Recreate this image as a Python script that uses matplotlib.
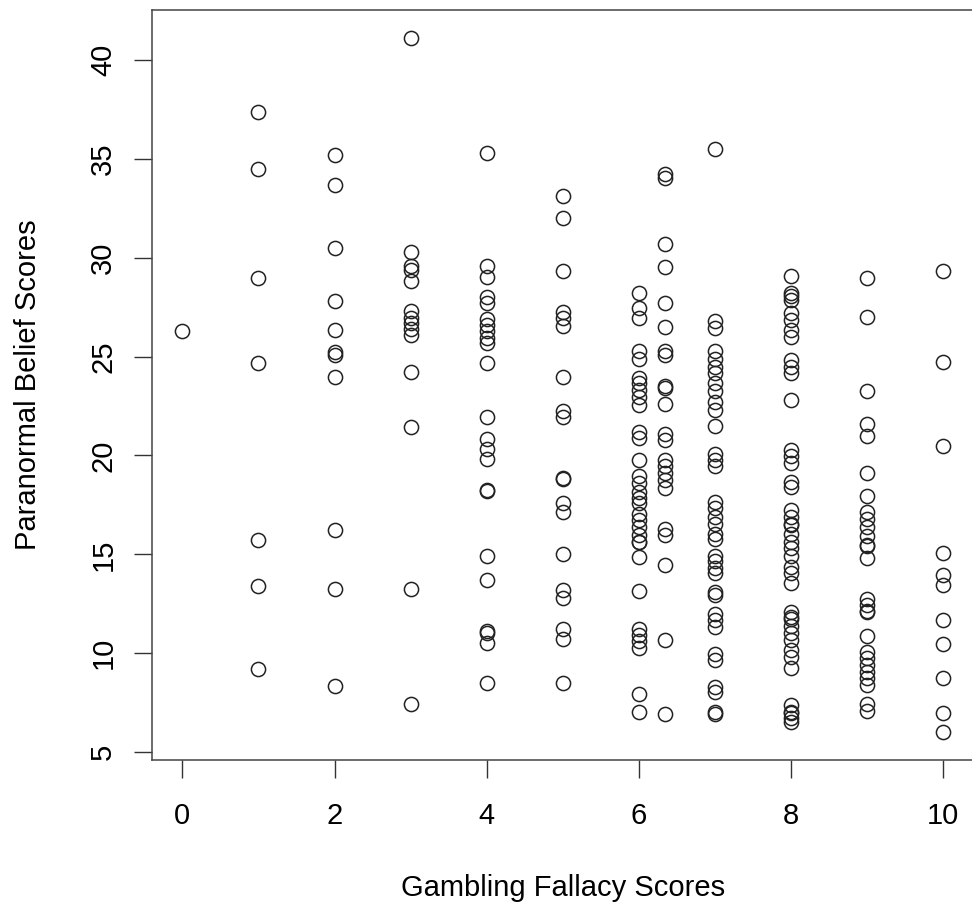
import numpy as np
import matplotlib
matplotlib.use("Agg")
import matplotlib.pyplot as plt

plt.rcParams['font.family'] = ['Liberation Sans', 'DejaVu Sans']

# gambling fallacy score levels (one column of points per level)
gf_levels = [0, 1, 2, 3, 4, 5, 6, 6.35, 7, 8, 9, 10]

# paranormal belief scores
pb_0 = [26.3]
pb_1 = [37.35, 34.5, 29.0, 24.7, 15.75, 13.4, 9.2]
pb_2 = [35.2, 33.7, 30.5, 27.8, 26.35, 25.25, 25.1, 23.95, 16.25, 13.25, 8.35]
pb_3 = [41.1, 30.3, 29.6, 29.4, 28.8, 27.3, 26.95, 26.7, 26.4, 26.1, 24.2,
        21.45, 13.25, 7.45]
pb_4 = [35.3, 29.6, 29.05, 28.0, 27.7, 26.9, 26.6, 26.3, 25.95, 25.7, 24.7,
        21.95, 20.85, 20.35, 19.8, 18.25, 18.2, 14.9, 13.7, 11.1, 11.0, 10.5, 8.5]
pb_5 = [33.1, 32.0, 29.35, 27.25, 26.95, 26.55, 23.95, 22.25, 21.95, 18.85,
        18.8, 17.6, 17.15, 15.0, 13.2, 12.8, 11.25, 10.7, 8.5]
pb_6 = [28.2, 27.45, 26.95, 25.3, 24.9, 23.9, 23.65, 23.3, 22.95, 22.55, 21.2,
        20.9, 19.75, 18.95, 18.6, 18.15, 17.85, 17.6, 17.05, 16.75, 16.4, 16.0,
        15.65, 15.6, 14.85, 13.15, 11.25, 10.9, 10.6, 10.25, 7.95, 7.05]
pb_6b = [34.25, 34.05, 30.7, 29.55, 27.7, 26.5, 25.3, 25.1, 23.5, 23.4, 22.6,
         21.1, 20.8, 19.75, 19.45, 19.1, 18.75, 18.35, 16.3, 16.0, 14.45, 10.65,
         6.95]
pb_7 = [35.5, 26.8, 26.45, 25.3, 24.9, 24.5, 24.15, 23.65, 23.25, 22.7, 22.3,
        21.5, 20.1, 19.75, 19.45, 17.65, 17.35, 16.9, 16.55, 16.05, 15.8, 14.9,
        14.65, 14.3, 14.05, 13.1, 12.95, 12.0, 11.7, 11.35, 9.95, 9.65, 8.3,
        8.05, 7.05, 6.95]
pb_8 = [29.1, 28.2, 28.05, 27.85, 27.2, 26.85, 26.35, 26.0, 24.85, 24.5, 24.15,
        22.8, 20.3, 19.95, 19.6, 18.65, 18.4, 17.25, 16.9, 16.55, 16.5, 16.05,
        15.65, 15.3, 14.9, 14.35, 14.05, 13.55, 12.1, 11.85, 11.75, 11.4, 11.0,
        10.65, 10.15, 9.8, 9.25, 7.4, 7.05, 7.0, 6.7, 6.5]
pb_9 = [29.0, 27.0, 23.25, 21.6, 21.0, 19.1, 17.95, 17.15, 16.8, 16.4, 15.95,
        15.45, 15.4, 14.8, 12.75, 12.45, 12.15, 12.1, 10.85, 10.05, 9.75, 9.4,
        9.05, 8.75, 8.4, 7.45, 7.1]
pb_10 = [29.35, 24.75, 20.5, 15.05, 13.95, 13.45, 11.7, 10.45, 8.75, 7.0, 6.0]

x_ticks = [0, 2, 4, 6, 8, 10]
y_ticks = [5, 10, 15, 20, 25, 30, 35, 40]

columns = [pb_0, pb_1, pb_2, pb_3, pb_4, pb_5, pb_6, pb_6b, pb_7, pb_8, pb_9, pb_10]
gf = np.concatenate([[lvl] * len(col) for lvl, col in zip(gf_levels, columns)])
pb = np.concatenate(columns)

fig = plt.figure(figsize=(9.72, 9.11), dpi=100)
ax = fig.add_axes([152 / 972, 151 / 911, 821.4 / 972, 750 / 911])

ax.plot(gf, pb, linestyle='none', marker='o', markersize=10.2,
        markerfacecolor='none', markeredgecolor='#222222', markeredgewidth=1.1)

ax.set_xlim(-0.4, 10.4)
ax.set_ylim(4.6, 42.53)
ax.set_xticks(x_ticks)
ax.set_yticks(y_ticks)
ax.tick_params(axis='both', direction='out', length=13, width=1.0,
               color='#333333', labelsize=21)
ax.tick_params(axis='x', pad=17)
ax.tick_params(axis='y', pad=12, labelrotation=90)
for tl in ax.get_yticklabels():
    tl.set_va('center')

for sp in ax.spines.values():
    sp.set_linewidth(1.1)
    sp.set_color('#444444')
# plot box runs past the right edge of the picture
ax.spines['right'].set_visible(False)

ax.set_xlabel("Gambling Fallacy Scores", fontsize=21, va='center')
ax.set_ylabel("Paranormal Belief Scores", fontsize=21, va='center')
ax.xaxis.set_label_coords(0.5, -0.1707)
ax.yaxis.set_label_coords(-0.151, 0.5)

fig.savefig("out.png", dpi=100)
